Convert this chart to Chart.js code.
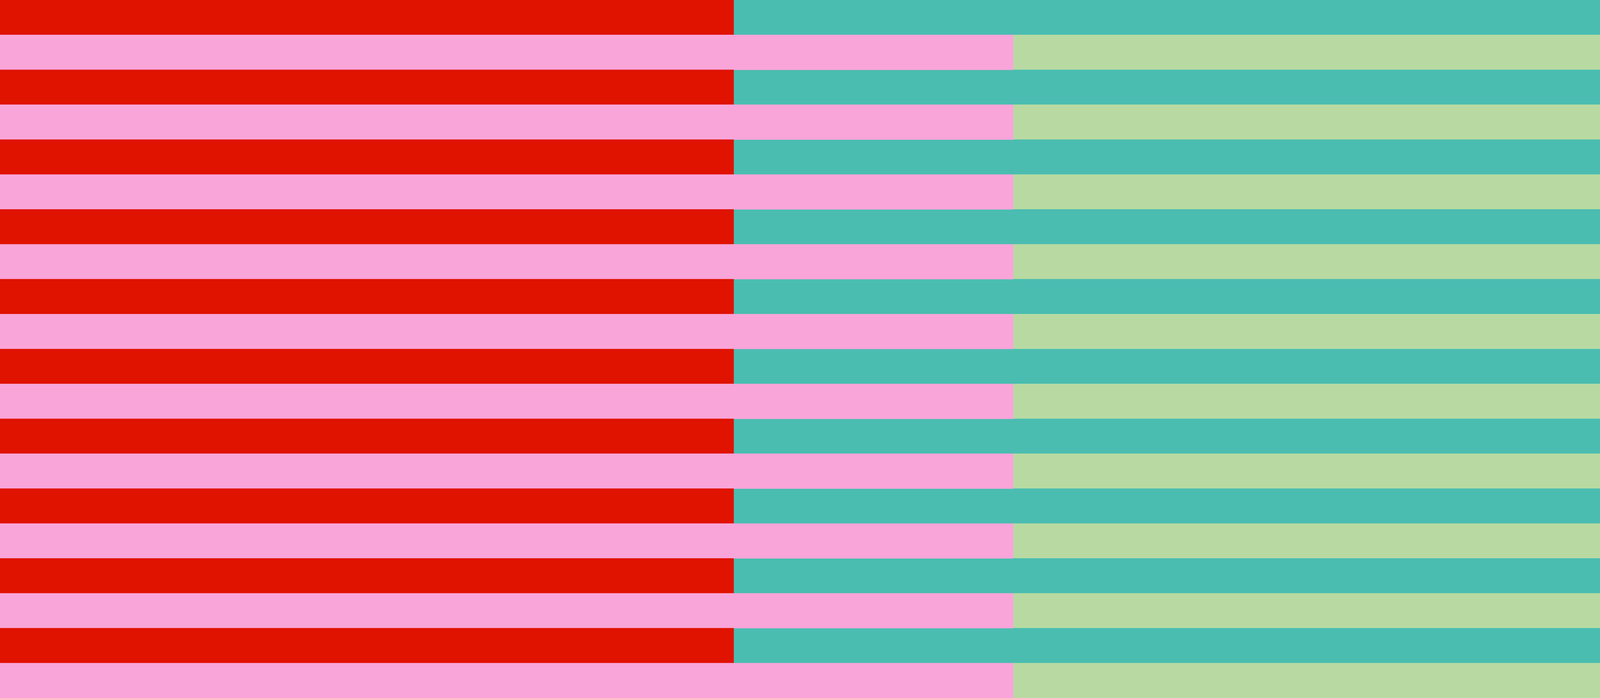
<!DOCTYPE html>
<html><head><meta charset="utf-8">
<script src="https://cdn.jsdelivr.net/npm/chart.js@4"></script>
<style>html,body{margin:0;padding:0;background:#fff;overflow:hidden}#w{width:4472px;height:1788px}</style>
</head><body><div id="w"><canvas id="c"></canvas></div>
<script>
const categories = ["1","2","3","4","5","6","7","8","9","10","11","12","13","14","15","16","17","18","19","20"];
const leftValues  = [42,58,42,58,42,58,42,58,42,58,42,58,42,58,42,58,42,58,42,58];
const rightValues = [58,42,58,42,58,42,58,42,58,42,58,42,58,42,58,42,58,42,58,42];
const leftColors  = categories.map((_,i)=> i%2===0 ? "#E01200" : "#F9A5D9");
const rightColors = categories.map((_,i)=> i%2===0 ? "#4ABDB0" : "#B8DAA2");
new Chart(document.getElementById("c"), {
  type: "bar",
  data: { labels: categories, datasets: [
    { data: leftValues, backgroundColor: leftColors, borderWidth: 0, barPercentage: 1, categoryPercentage: 1 },
    { data: rightValues, backgroundColor: rightColors, borderWidth: 0, barPercentage: 1, categoryPercentage: 1 }
  ]},
  options: {
    indexAxis: "y", responsive: true, maintainAspectRatio: false, animation: false,
    layout: { padding: 0 },
    plugins: { legend: { display: false }, tooltip: { enabled: false } },
    scales: {
      x: { stacked: true, display: false, min: 0, max: 100 },
      y: { stacked: true, display: false }
    }
  }
});
</script></body></html>
